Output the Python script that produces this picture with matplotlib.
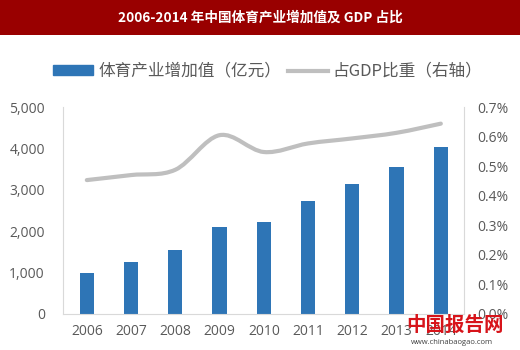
import numpy as np
import matplotlib
matplotlib.use('Agg')
import matplotlib.pyplot as plt
from matplotlib.path import Path
from matplotlib.patches import PathPatch, Rectangle
from matplotlib.lines import Line2D
from matplotlib.ticker import FuncFormatter

plt.rcParams['font.family'] = ['Open Sans', 'Noto Sans CJK SC', 'DejaVu Sans']

# data
years = ['2006', '2007', '2008', '2009', '2010', '2011', '2012', '2013', '2014']
added_value = [983, 1265, 1555, 2105, 2220, 2740, 3136, 3563, 4041]
gdp_share = [0.453, 0.470, 0.488, 0.605, 0.548, 0.577, 0.594, 0.613, 0.644]

title = '2006-2014 年中国体育产业增加值及 GDP 占比'
bar_label = '体育产业增加值（亿元）'
line_label = '占GDP比重（右轴）'

bar_color = '#2E75B6'
line_color = '#BFBFBF'
text_color = '#595959'

fig = plt.figure(figsize=(5.2, 3.5), dpi=100)
fig.patch.set_facecolor('white')

# title band
fig.patches.append(Rectangle((0, 0.9), 1, 0.1, transform=fig.transFigure,
                             facecolor='#990000', edgecolor='none', zorder=0))
fig.text(0.5, 0.95, title, color='white', fontsize=9.8, fontweight='bold',
         ha='center', va='center', family=['Noto Sans CJK SC', 'DejaVu Sans'])

ax = fig.add_axes([0.121, 0.103, 0.771, 0.591])
x = np.arange(len(years))
ax.bar(x, added_value, width=0.32, color=bar_color, zorder=2)
ax.set_xlim(-0.54, 8.52)
ax.set_ylim(0, 5000)
ax.set_yticks(range(0, 5001, 1000))
ax.yaxis.set_major_formatter(FuncFormatter(lambda v, p: f'{int(v):,}'))
ax.set_xticks(x)
ax.set_xticklabels(years)

ax2 = ax.twinx()
ax2.set_ylim(0, 0.7)
ax2.set_yticks(np.arange(0, 0.71, 0.1))
ax2.yaxis.set_major_formatter(FuncFormatter(lambda v, p: f'{v:.1f}%'))

# smoothed line (Catmull-Rom -> cubic Bezier through the data points)
pts = np.column_stack([x, gdp_share])
verts = [tuple(pts[0])]
codes = [Path.MOVETO]
for i in range(len(pts) - 1):
    p0 = pts[i - 1] if i > 0 else pts[i]
    p1, p2 = pts[i], pts[i + 1]
    p3 = pts[i + 2] if i + 2 < len(pts) else pts[i + 1]
    c1 = p1 + (p2 - p0) / 6
    c2 = p2 - (p3 - p1) / 6
    verts += [tuple(c1), tuple(c2), tuple(p2)]
    codes += [Path.CURVE4] * 3
ax2.add_patch(PathPatch(Path(verts, codes), facecolor='none', edgecolor=line_color,
                        lw=3, capstyle='round', zorder=3))

for a in (ax, ax2):
    for s in a.spines.values():
        s.set_visible(False)
    a.tick_params(colors=text_color, labelsize=10, length=0)
ax.spines['left'].set_visible(True)
ax.spines['left'].set_color('#D9D9D9')
ax.spines['bottom'].set_visible(True)
ax.spines['bottom'].set_color('#D9D9D9')
ax2.spines['right'].set_visible(True)
ax2.spines['right'].set_color('#D9D9D9')
ax.tick_params(axis='y', pad=13)
ax.tick_params(axis='x', pad=7)
ax2.tick_params(axis='y', pad=10)

handles = [Rectangle((0, 0), 1, 1, color=bar_color),
           Line2D([], [], color=line_color, lw=3)]
fig.legend(handles, [bar_label, line_label], loc='center', ncol=2,
           bbox_to_anchor=(0.515, 0.796), frameon=False, handlelength=2.4,
           handleheight=0.5, columnspacing=0.4, handletextpad=0.3,
           prop={'family': ['Noto Sans CJK SC', 'DejaVu Sans'], 'size': 12},
           labelcolor=text_color)

# watermark
fig.text(0.875, 0.07, '中国报告网', color='#D7141A', fontsize=14, fontweight='bold',
         ha='center', va='center', family=['Noto Sans CJK SC', 'DejaVu Sans'])
fig.text(0.87, 0.02, 'www.chinabaogao.com', color='#404040', fontsize=5.5,
         ha='center', va='center')

fig.savefig('out.png', dpi=100)
